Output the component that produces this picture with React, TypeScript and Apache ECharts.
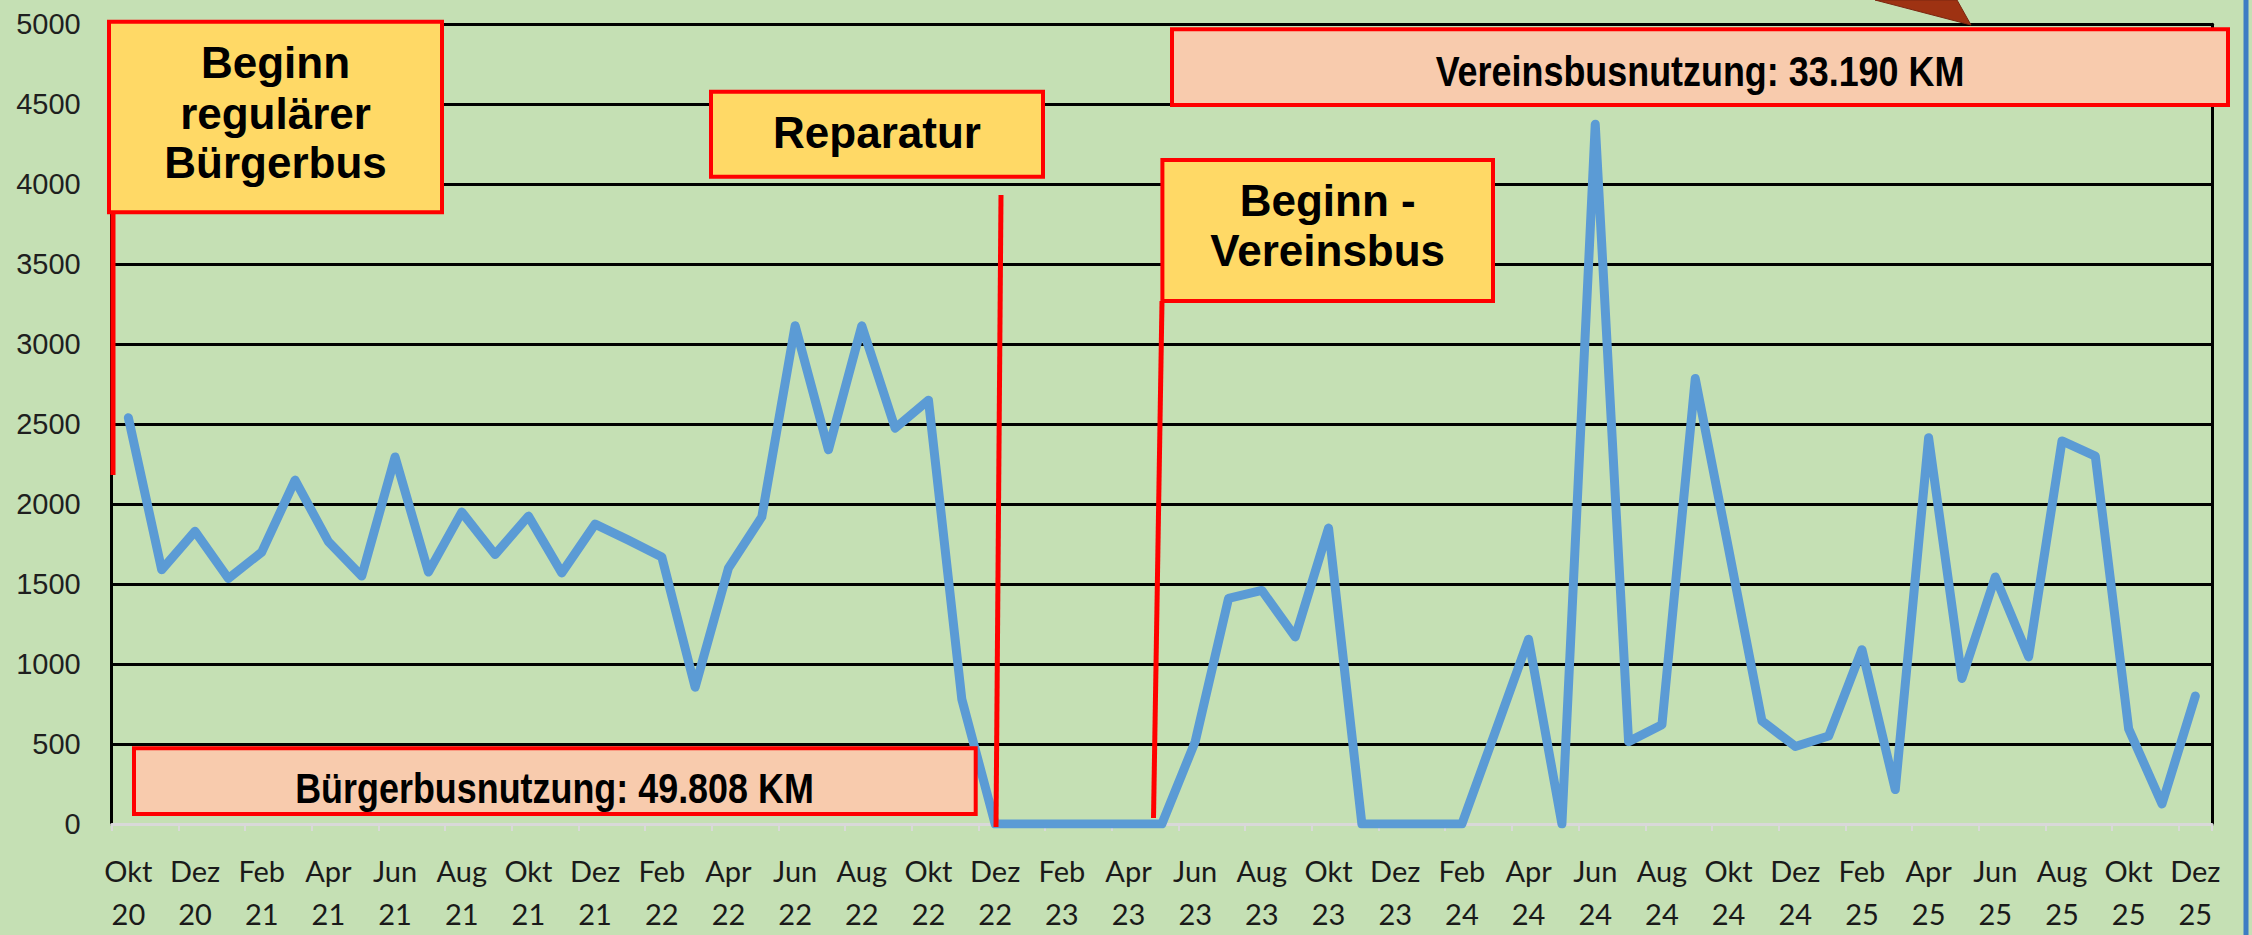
import React, { useEffect, useRef } from "react";
import * as echarts from "echarts";

const categories = [
  "Okt 20", "Nov 20", "Dez 20",
  "Jan 21", "Feb 21", "Mär 21", "Apr 21", "Mai 21", "Jun 21", "Jul 21", "Aug 21", "Sep 21", "Okt 21", "Nov 21", "Dez 21",
  "Jan 22", "Feb 22", "Mär 22", "Apr 22", "Mai 22", "Jun 22", "Jul 22", "Aug 22", "Sep 22", "Okt 22", "Nov 22", "Dez 22",
  "Jan 23", "Feb 23", "Mär 23", "Apr 23", "Mai 23", "Jun 23", "Jul 23", "Aug 23", "Sep 23", "Okt 23", "Nov 23", "Dez 23",
  "Jan 24", "Feb 24", "Mär 24", "Apr 24", "Mai 24", "Jun 24", "Jul 24", "Aug 24", "Sep 24", "Okt 24", "Nov 24", "Dez 24",
  "Jan 25", "Feb 25", "Mär 25", "Apr 25", "Mai 25", "Jun 25", "Jul 25", "Aug 25", "Sep 25", "Okt 25", "Nov 25", "Dez 25",
];

const kilometres = [
  2540, 1590, 1830,
  1535, 1700, 2150, 1765, 1550, 2295, 1575, 1950, 1685, 1925, 1570, 1875,
  1775, 1670, 855, 1600, 1920, 3115, 2340, 3115, 2475, 2650, 780, 0,
  0, 0, 0, 0, 0, 515, 1410, 1460, 1170, 1850, 0, 0,
  0, 0, 575, 1155, 0, 4375, 515, 620, 2785, 1720, 645, 485,
  550, 1090, 215, 2415, 910, 1545, 1045, 2395, 2300, 595, 125, 800,
];

const yMin = 0;
const yMax = 5000;
const yStep = 500;

const boxFont = 'bold 44px "Liberation Sans", Arial, sans-serif';
const narrowFont = 'bold 43px "Liberation Sans", Arial, sans-serif';

function label(x: number, y: number, text: string, font: string, scaleX = 1) {
  return {
    type: "text",
    x,
    y,
    scaleX,
    z: 110,
    style: {
      text,
      font,
      fill: "#000000",
      align: "center",
      verticalAlign: "middle",
      textAlign: "center",
      textVerticalAlign: "middle",
    },
  };
}

function box(x1: number, y1: number, x2: number, y2: number, fill: string) {
  return {
    type: "rect",
    z: 100,
    shape: { x: x1, y: y1, width: x2 - x1, height: y2 - y1 },
    style: { fill, stroke: "#FF0000", lineWidth: 4 },
  };
}

function redLine(x1: number, y1: number, x2: number, y2: number) {
  return {
    type: "line",
    z: 100,
    shape: { x1, y1, x2, y2 },
    style: { stroke: "#FF0000", lineWidth: 5 },
  };
}

export default function App() {
  const ref = useRef<HTMLDivElement>(null);

  useEffect(() => {
    document.body.style.margin = "0";
    const chart = echarts.init(ref.current as HTMLDivElement, null, { renderer: "svg" });
    chart.setOption({
      animation: false,
      backgroundColor: "#C5E0B4",
      grid: { left: 111.7, right: 40, top: 24.3, bottom: 105.5, containLabel: false },
      xAxis: {
        type: "category",
        data: categories,
        boundaryGap: true,
        axisLine: { show: true, lineStyle: { color: "#D9D9D9", width: 3 } },
        axisTick: { show: true, interval: 1, length: 7, lineStyle: { color: "#D9D9D9", width: 2 } },
        axisLabel: {
          interval: 1,
          formatter: (v: string) => v.replace(" ", "\n"),
          fontFamily: "Lato, 'Open Sans', sans-serif",
          fontSize: 29,
          lineHeight: 43,
          color: "#1A1A1A",
          margin: 25,
        },
        splitLine: { show: false },
      },
      yAxis: [
        {
          type: "value",
          position: "left",
          min: yMin,
          max: yMax,
          interval: yStep,
          axisLine: { show: true, lineStyle: { color: "#000000", width: 3 } },
          axisTick: { show: false },
          axisLabel: {
            formatter: (v: number) => String(v),
            fontFamily: "'Liberation Sans', Arial, sans-serif",
            fontSize: 29,
            color: "#1F1F1F",
            margin: 31,
          },
          splitLine: { show: true, showMinLine: false, lineStyle: { color: "#000000", width: 3 } },
        },
        {
          type: "value",
          position: "right",
          min: yMin,
          max: yMax,
          interval: yStep,
          axisLine: { show: true, lineStyle: { color: "#000000", width: 3 } },
          axisTick: { show: false },
          axisLabel: { show: false },
          splitLine: { show: false },
        },
      ],
      series: [
        {
          type: "line",
          name: "KM",
          data: kilometres,
          yAxisIndex: 0,
          symbol: "none",
          z: 5,
          lineStyle: { color: "#5B9BD5", width: 9, join: "round", cap: "round" },
        },
      ],
      graphic: [
        { type: "line", z: 100, shape: { x1: 2246, y1: 0, x2: 2246, y2: 935 }, style: { stroke: "#3D7CC4", lineWidth: 5 } },
        {
          type: "polygon",
          z: 100,
          shape: { points: [[1875, 0], [1957, 0], [1971, 25]] },
          style: { fill: "#9E3212", stroke: "#7A2610", lineWidth: 1 },
        },
        redLine(113, 212, 113, 475),
        redLine(1001, 195, 996, 827),
        redLine(1162, 301, 1153.5, 818),
        box(109, 21.7, 442, 212.3, "#FFD966"),
        box(711, 91.7, 1043, 176.7, "#FFD966"),
        box(1162.4, 160, 1493, 301, "#FFD966"),
        box(134, 748.3, 975.7, 814, "#F8CBAD"),
        box(1172, 29.3, 2228, 105, "#F8CBAD"),
        label(275.5, 62, "Beginn", boxFont),
        label(275.5, 113, "regulärer", boxFont),
        label(275.5, 162.5, "Bürgerbus", boxFont),
        label(877, 132.5, "Reparatur", boxFont),
        label(1327.7, 200, "Beginn -", boxFont),
        label(1327.7, 250, "Vereinsbus", boxFont),
        label(554.5, 788, "Bürgerbusnutzung: 49.808 KM", narrowFont, 0.835),
        label(1700, 71, "Vereinsbusnutzung: 33.190 KM", narrowFont, 0.835),
      ],
    });
    return () => chart.dispose();
  }, []);

  return <div ref={ref} style={{ position: "absolute", left: 0, top: 0, width: 2252, height: 935 }} />;
}
